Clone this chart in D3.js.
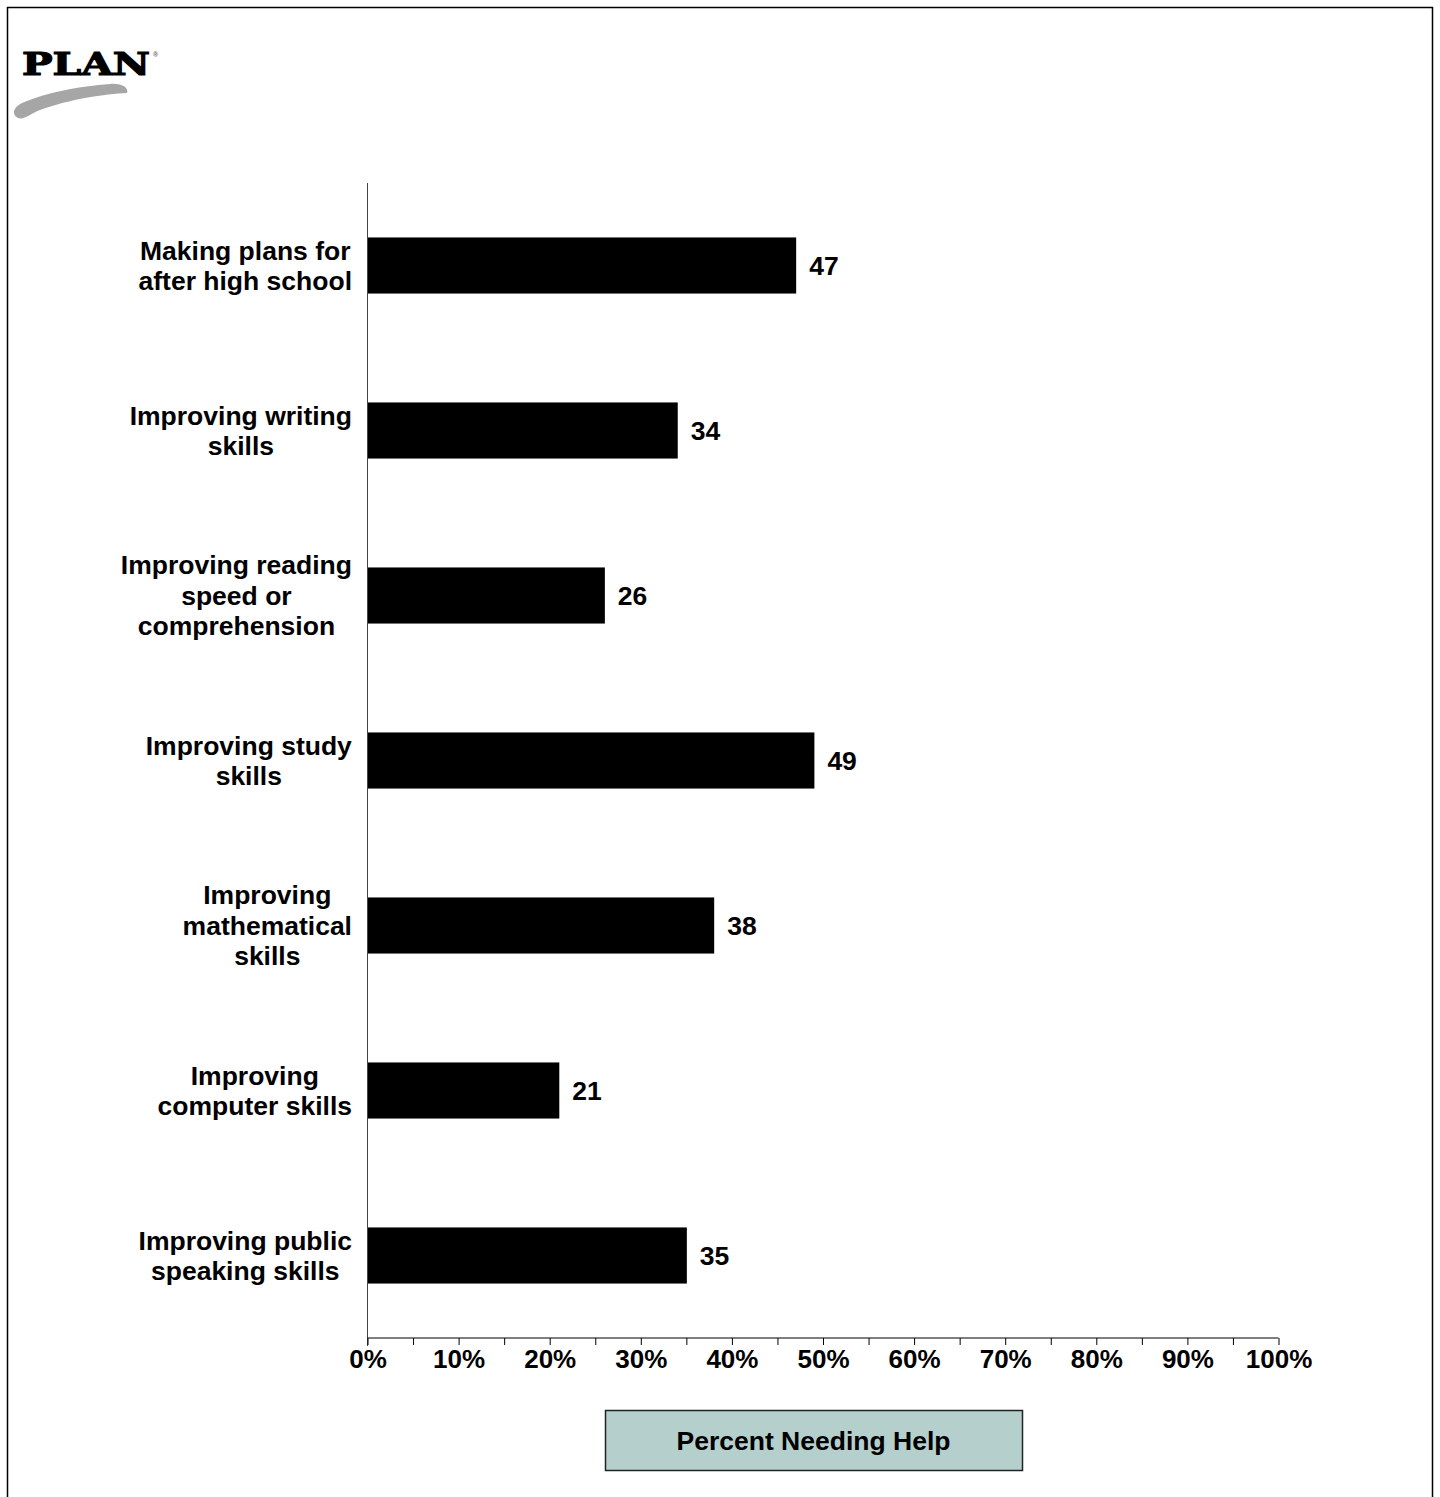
<!DOCTYPE html>
<html>
<head>
<meta charset="utf-8">
<script src="https://cdn.jsdelivr.net/npm/d3@7"></script>
<style>
    body { margin: 0; background: #fff; }
    text { font-family: "Liberation Sans", Arial, sans-serif; font-weight: bold; fill: #000; }
</style>
</head>
<body>
<svg id="chart" width="1440" height="1497"></svg>
<script>
// Chart data
const categories = [
    ["Making plans for", "after high school"],
    ["Improving writing", "skills"],
    ["Improving reading", "speed or", "comprehension"],
    ["Improving study", "skills"],
    ["Improving", "mathematical", "skills"],
    ["Improving", "computer skills"],
    ["Improving public", "speaking skills"]
];
const values = [47, 34, 26, 49, 38, 21, 35];
const tickValues = [0, 10, 20, 30, 40, 50, 60, 70, 80, 90, 100];
const legendLabel = "Percent Needing Help";

let svg = d3.select("#chart");
let fontSize = "26.5px";

// Frame around the page
svg.append("path")
    .attr("d", "M7.5,1497 V7.5 H1432.5 V1497")
    .attr("fill", "none")
    .attr("stroke", "#000")
    .attr("stroke-width", 1.5);

// Logo
let logo = svg.append("g");
logo.append("text")
    .attr("x", 22)
    .attr("y", 75)
    .attr("textLength", 128)
    .attr("lengthAdjust", "spacingAndGlyphs")
    .style("font-family", "'DejaVu Serif', serif")
    .style("font-size", "32px")
    .style("font-weight", "bold")
    .style("stroke", "#000")
    .style("stroke-width", "1.2px")
    .text("PLAN");
logo.append("text")
    .attr("x", 153)
    .attr("y", 57)
    .style("font-size", "7px")
    .style("fill", "#666")
    .text("®");
logo.append("path")
    .attr("d", "M18,118 C12,115 12,108 22,103 C45,93 80,86 110,84 C122,83 129,88 127,93 C105,94 70,99 40,110 C30,114 24,120 18,118 Z")
    .attr("fill", "#a6a6a6");

// Layout
let margin = {left: 367, right: 1278, top: 183, bottom: 1338};

let x = d3.scaleLinear()
    .domain([0, 100])
    .range([margin.left, margin.right]);

let y = d3.scaleBand()
    .domain(d3.range(values.length))
    .range([margin.top, margin.bottom])
    .paddingInner(0.66)
    .paddingOuter(0.33);

// Bars
svg.append("g").selectAll("rect")
    .data(values)
    .enter()
    .append("rect")
    .attr("x", x(0))
    .attr("y", (d, i) => y(i))
    .attr("width", d => x(d) - x(0) + 1)
    .attr("height", y.bandwidth())
    .attr("fill", "#000");

// Value labels
svg.append("g").selectAll("text")
    .data(values)
    .enter()
    .append("text")
    .attr("x", d => x(d) + 14)
    .attr("y", (d, i) => y(i) + y.bandwidth() / 2)
    .attr("dy", "0.35em")
    .style("font-size", fontSize)
    .text(d => d);

// Category labels: lines centred, block right-aligned against the axis
let lineHeight = 30.5;
let catGroup = svg.append("g");
categories.forEach((lines, i) => {
    let cy = y(i) + y.bandwidth() / 2;
    let t = catGroup.append("text")
        .style("font-size", fontSize)
        .attr("text-anchor", "middle");
    lines.forEach((line, j) => {
        t.append("tspan")
            .attr("x", 0)
            .attr("y", cy + (j - (lines.length - 1) / 2) * lineHeight)
            .attr("dy", "0.35em")
            .text(line);
    });
    let w = t.node().getBBox().width;
    t.selectAll("tspan").attr("x", 352 - w / 2);
});

// Vertical axis line
svg.append("line")
    .attr("x1", x(0) + 0.5).attr("x2", x(0) + 0.5)
    .attr("y1", margin.top).attr("y2", margin.bottom + 8)
    .attr("stroke", "#444").attr("stroke-width", 1);

// X axis
let xAxis = d3.axisBottom(x)
    .tickValues(d3.range(0, 101, 5))
    .tickSize(7)
    .tickFormat(d => tickValues.includes(d) ? d + "%" : "");

let gx = svg.append("g")
    .attr("transform", `translate(0.5,${margin.bottom})`)
    .call(xAxis);
gx.select(".domain").attr("stroke", "#000").attr("d", `M${x(0)},0H${x(100)}`);
gx.selectAll(".tick line").attr("stroke", "#000");
gx.selectAll(".tick text")
    .attr("y", 12)
    .style("font-family", "'Liberation Sans', Arial, sans-serif")
    .style("font-weight", "bold")
    .style("font-size", "26px")
    .attr("fill", "#000");

// Legend box
let legend = svg.append("g");
legend.append("rect")
    .attr("x", 605.5).attr("y", 1410.5)
    .attr("width", 417).attr("height", 60)
    .attr("fill", "#b5d0cc")
    .attr("stroke", "#222")
    .attr("stroke-width", 1.5);
legend.append("text")
    .attr("x", 813.5)
    .attr("y", 1441)
    .attr("dy", "0.35em")
    .attr("text-anchor", "middle")
    .style("font-size", fontSize)
    .text(legendLabel);
</script>
</body>
</html>
